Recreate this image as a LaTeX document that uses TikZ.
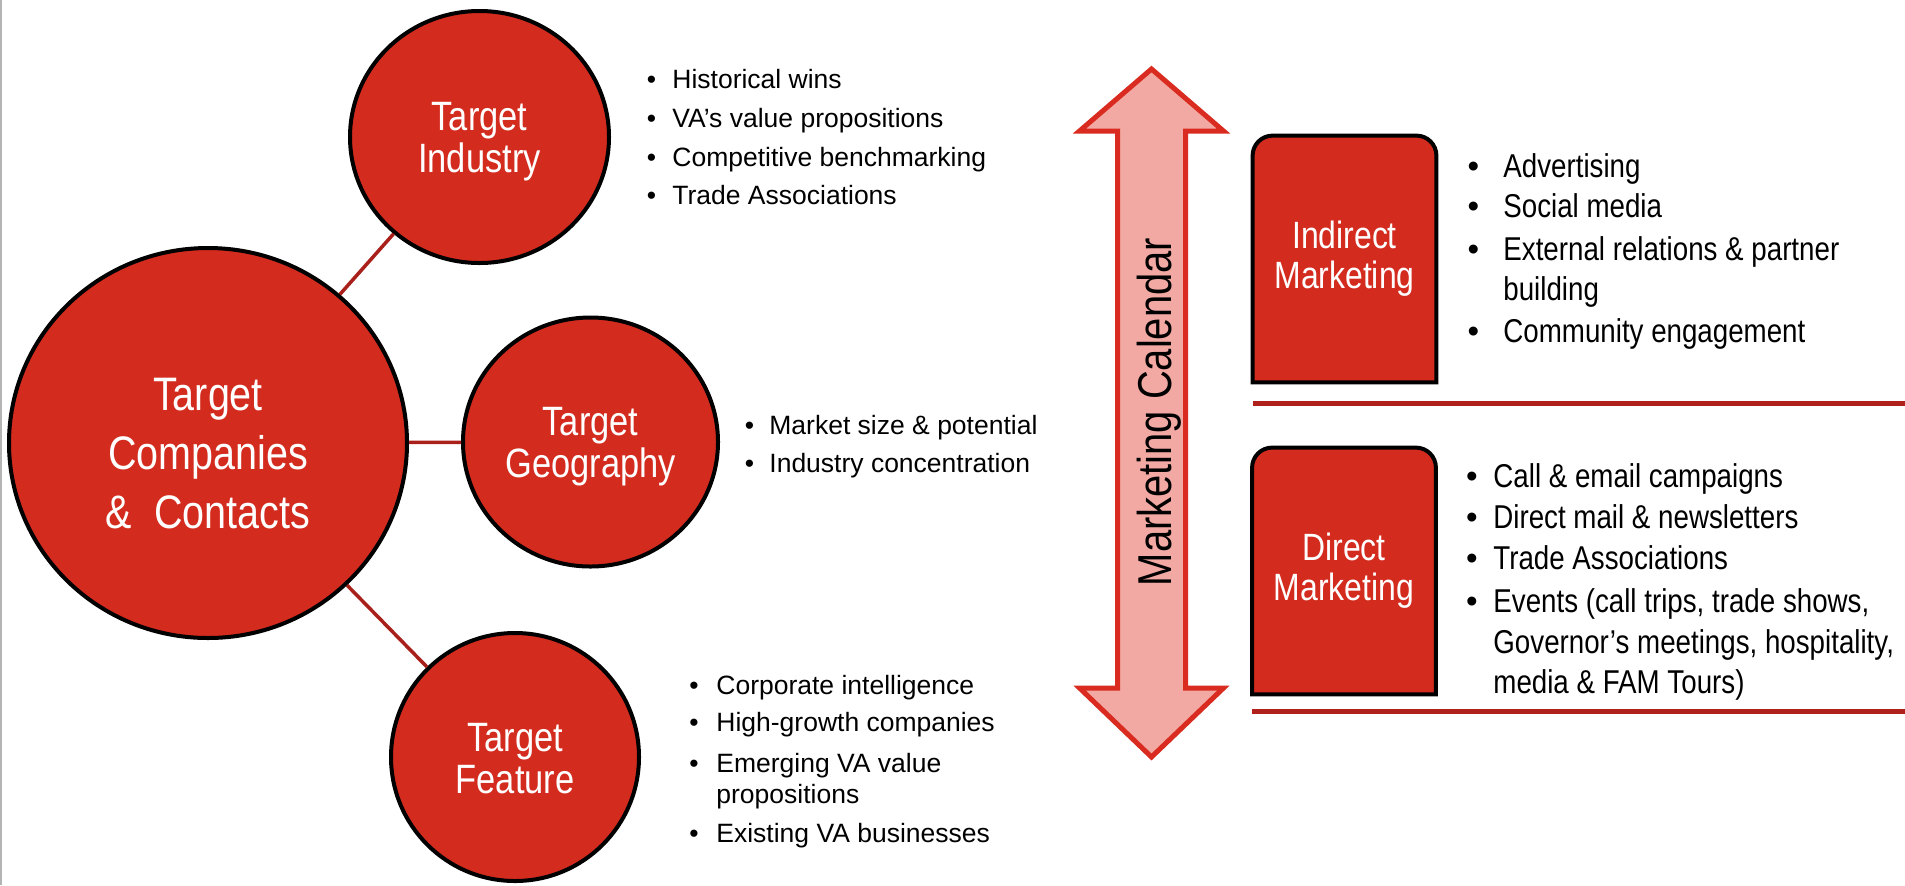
\documentclass[tikz,border=0pt]{standalone}
\usepackage{fontspec}
\setmainfont{Liberation Sans}
\newfontfamily\narrowsf{Liberation Sans}[FakeStretch=0.84]
\usetikzlibrary{shapes.geometric,backgrounds}
\definecolor{TargetRed}{HTML}{D42B1F}
\definecolor{SpokeRed}{HTML}{A82019}
\definecolor{RuleRed}{HTML}{B0211C}
\definecolor{ArrowPink}{HTML}{F2A9A3}
\definecolor{ArrowRed}{HTML}{D92B20}
\definecolor{EdgeGray}{HTML}{B4B4B4}
\newcommand\leftlistfont{\fontsize{13.25}{15}\selectfont}
\newcommand\rightlistfont{\narrowsf\fontsize{16.5}{20}\selectfont}
\newcommand\hubtop[1]{\rule{0pt}{#1}}
\tikzset{
  hub/.style={ellipse, draw=black, line width=2pt, fill=TargetRed, text=white, inner sep=0pt,
    align=center, font=\narrowsf\fontsize{20.5}{21}\selectfont},
  spoke/.style={draw=SpokeRed, line width=1.75pt},
  bulletdot/.style={anchor=base, inner sep=0pt},
  itemline/.style={anchor=base west, inner sep=0pt},
  channel/.style={draw=black, line width=2pt, fill=TargetRed},
  channeltext/.style={minimum width=91.5pt, minimum height=123pt, inner sep=0pt, text=white,
    align=center, font=\narrowsf\fontsize{19}{20}\selectfont},
  sepline/.style={draw=RuleRed, line width=2.5pt},
  calarrow/.style={draw=ArrowRed, fill=ArrowPink, line width=2.5pt}
}
\begin{document}
\begin{tikzpicture}[x=0.5pt, y=-0.5pt]
  \useasboundingbox (0,0) rectangle (1905,885);
  \draw[EdgeGray, line width=0.75pt] (0.75,0) -- (0.75,885);

  \node[hub, minimum width=199pt, minimum height=195pt, font=\narrowsf\fontsize{23.5}{29.5}\selectfont]
    (companies) at (208,443) {\hubtop{27pt}Target\\Companies\\\&~~Contacts};
  \node[hub, minimum width=129.5pt, minimum height=126pt] (industry) at (479.5,137) {\hubtop{19pt}Target\\Industry};
  \node[hub, minimum width=127.5pt, minimum height=124.5pt] (geography) at (590.5,442) {\hubtop{19pt}Target\\Geography};
  \node[hub, minimum width=124pt, minimum height=124pt] (feature) at (515,757) {\hubtop{16pt}Target\\Feature};
  \draw[spoke] (companies) -- (industry);
  \draw[spoke] (companies) -- (geography);
  \draw[spoke] (companies) -- (feature);

  \foreach \y/\txt in {88/Historical wins, 127/VA’s value propositions, 166/Competitive benchmarking, 204/Trade Associations}{
    \node[bulletdot, font=\leftlistfont] (indb\y) at (651.5,\y) {\textbullet};
    \node[itemline, font=\leftlistfont] (indt\y) at (672,\y) {\txt};
  }
  \foreach \y/\txt in {434/Market size \& potential, 472/Industry concentration}{
    \node[bulletdot, font=\leftlistfont] (geob\y) at (749.5,\y) {\textbullet};
    \node[itemline, font=\leftlistfont] (geot\y) at (769,\y) {\txt};
  }
  \foreach \y/\txt in {694/Corporate intelligence, 731/High-growth companies, 772/Emerging VA value, 842/Existing VA businesses}{
    \node[bulletdot, font=\leftlistfont] (feab\y) at (694,\y) {\textbullet};
    \node[itemline, font=\leftlistfont] (feat\y) at (716,\y) {\txt};
  }
  \node[itemline, font=\leftlistfont] (feat803) at (716,803) {propositions};

  \draw[calarrow] (1151.5,69) -- (1223.5,131) -- (1185.5,131) -- (1185.5,688) -- (1223.5,688)
    -- (1151.5,757) -- (1079.5,688) -- (1117.5,688) -- (1117.5,131) -- (1079.5,131) -- cycle;
  \node[rotate=90, inner sep=0pt, font=\narrowsf\fontsize{23.75}{24}\selectfont] (calendar) at (1159,412)
    {Marketing Calendar};

  \node[channeltext] (indirect) at (1344.5,259) {Indirect\\Marketing};
  \node[channeltext] (direct) at (1344,571) {Direct\\Marketing};
  \begin{scope}[on background layer]
    \foreach \b in {indirect,direct}
      \filldraw[channel] (\b.south west) -- ([yshift=-10pt]\b.north west)
        arc[start angle=180, end angle=90, radius=10pt] -- ([xshift=-10pt]\b.north east)
        arc[start angle=90, end angle=0, radius=10pt] -- (\b.south east) -- cycle;
  \end{scope}
  \coordinate (irule) at (1905,403);
  \coordinate (drule) at (1905,711);
  \draw[sepline] (indirect.south west |- irule) -- (irule);
  \draw[sepline] (direct.south west |- drule) -- (drule);

  \foreach \y/\txt in {177/Advertising, 217/Social media, 260/External relations \& partner, 342/Community engagement}{
    \node[bulletdot, font=\fontsize{16.5}{20}\selectfont] (inb\y) at (1473.5,\y) {\textbullet};
    \node[itemline, font=\rightlistfont] (int\y) at (1503,\y) {\txt};
  }
  \node[itemline, font=\rightlistfont] (int300) at (1503,300) {building};
  \foreach \y/\txt in {487/Call \& email campaigns, 528/Direct mail \& newsletters, 569/Trade Associations, 612/{Events (call trips, trade shows,}}{
    \node[bulletdot, font=\fontsize{16.5}{20}\selectfont] (dib\y) at (1472,\y) {\textbullet};
    \node[itemline, font=\rightlistfont] (dit\y) at (1493,\y) {\txt};
  }
  \node[itemline, font=\rightlistfont] (dit653) at (1493,653) {Governor’s meetings, hospitality,};
  \node[itemline, font=\rightlistfont] (dit693) at (1493,693) {media \& FAM Tours)};
\end{tikzpicture}
\end{document}
